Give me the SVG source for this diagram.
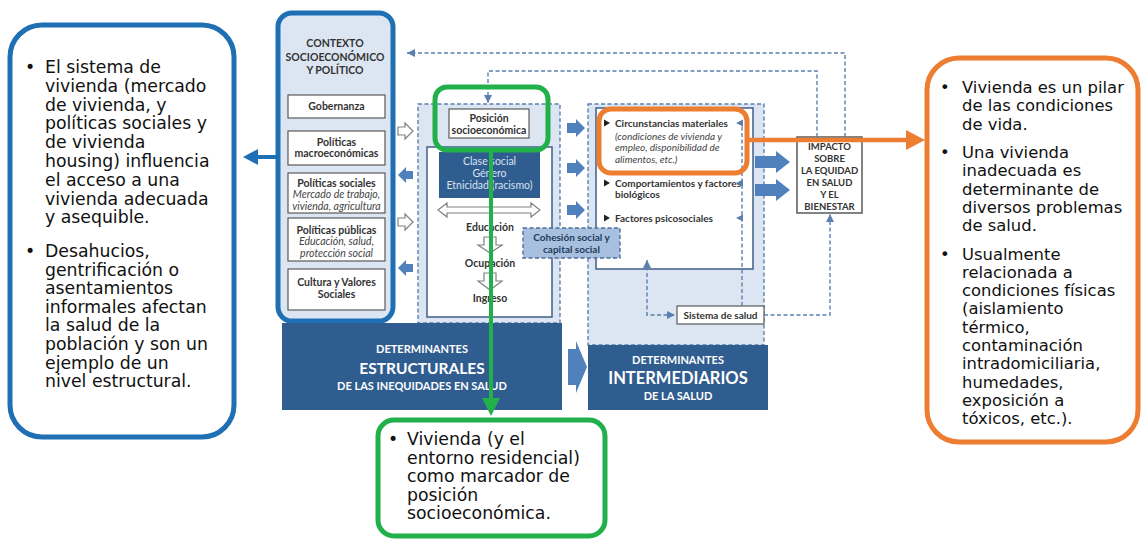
<svg xmlns="http://www.w3.org/2000/svg" width="1141" height="539" viewBox="0 0 1141 539">
<defs>
<style>
.v{font-family:"DejaVu Sans",Verdana,sans-serif;fill:#111}
.d{font-family:Lato,"Liberation Sans",sans-serif;fill:#333;text-anchor:middle;font-size:10.5px}
.b{font-weight:bold}
.i{font-style:italic;fill:#444}
.dash{fill:none;stroke:#5b80b0;stroke-width:1.4;stroke-dasharray:4 2.5}
.wbox{fill:#fff;stroke:#5a5a5a;stroke-width:1.2}
.col{fill:#dce6f2;stroke:#5b80b0;stroke-width:1.4;stroke-dasharray:4 2.5}
.bar{fill:#305d90}
.bt{font-family:Lato,"Liberation Sans",sans-serif;fill:#fff;text-anchor:middle;font-weight:bold}
.ba{fill:#4f81bd}
.wa{fill:#fff;stroke:#808080;stroke-width:1.2}
.sh{fill:#5b80b0}
</style>
<marker id="mh" viewBox="0 0 8 8" refX="8" refY="4" markerWidth="8" markerHeight="8" orient="auto-start-reverse" markerUnits="userSpaceOnUse"><path d="M0,0 L8,4 L0,8 Z" fill="#5b80b0"/></marker>
</defs>
<rect width="1141" height="539" fill="#fff"/>

<g id="left-note">
<rect x="10" y="25" width="224" height="412" rx="32" fill="#fff" stroke="#1f6fb4" stroke-width="5"/>
<g class="v" font-size="17.3">
<text x="25" y="73">•</text>
<text x="45" y="73">El sistema de</text>
<text x="45" y="91.8">vivienda (mercado</text>
<text x="45" y="110.6">de vivienda, y</text>
<text x="45" y="129.4">políticas sociales y</text>
<text x="45" y="148.2">de vivienda</text>
<text x="45" y="167">housing) influencia</text>
<text x="45" y="185.8">el acceso a una</text>
<text x="45" y="204.6">vivienda adecuada</text>
<text x="45" y="223.4">y asequible.</text>
<text x="25" y="257">•</text>
<text x="45" y="257">Desahucios,</text>
<text x="45" y="275.6">gentrificación o</text>
<text x="45" y="294.2">asentamientos</text>
<text x="45" y="312.8">informales afectan</text>
<text x="45" y="331.4">la salud de la</text>
<text x="45" y="350">población y son un</text>
<text x="45" y="368.6">ejemplo de un</text>
<text x="45" y="387.2">nivel estructural.</text>
</g>
</g>

<g id="right-note">
<rect x="927" y="58" width="211" height="384" rx="32" fill="#fff" stroke="#ed7d31" stroke-width="5"/>
<g class="v" font-size="16.4">
<text x="940" y="93">•</text>
<text x="962" y="93">Vivienda es un pilar</text>
<text x="962" y="111.3">de las condiciones</text>
<text x="962" y="129.6">de vida.</text>
<text x="940" y="158">•</text>
<text x="962" y="158">Una vivienda</text>
<text x="962" y="176.3">inadecuada es</text>
<text x="962" y="194.6">determinante de</text>
<text x="962" y="212.9">diversos problemas</text>
<text x="962" y="231.2">de salud.</text>
<text x="940" y="259.5">•</text>
<text x="962" y="259.5">Usualmente</text>
<text x="962" y="277.8">relacionada a</text>
<text x="962" y="296.1">condiciones físicas</text>
<text x="962" y="314.4">(aislamiento</text>
<text x="962" y="332.7">térmico,</text>
<text x="962" y="351">contaminación</text>
<text x="962" y="369.3">intradomiciliaria,</text>
<text x="962" y="387.6">humedades,</text>
<text x="962" y="405.9">exposición a</text>
<text x="962" y="424.2">tóxicos, etc.).</text>
</g>
</g>

<g id="bottom-note">
<rect x="378" y="420" width="227" height="116" rx="16" fill="#fff" stroke="#22b04b" stroke-width="5"/>
<g class="v" font-size="17.3">
<text x="388" y="445">•</text>
<text x="407" y="445">Vivienda (y el</text>
<text x="407" y="463.6">entorno residencial)</text>
<text x="407" y="482.2">como marcador de</text>
<text x="407" y="500.8">posición</text>
<text x="407" y="519.4">socioeconómica.</text>
</g>
</g>

<g id="contexto">
<rect x="278" y="13" width="115" height="308" rx="14" fill="#dce6f2" stroke="#1f6fb4" stroke-width="5"/>
<text class="d b" x="335" y="47">CONTEXTO</text>
<text class="d b" x="335" y="60.5">SOCIOECONÓMICO</text>
<text class="d b" x="335" y="74">Y POLÍTICO</text>
<rect class="wbox" x="288" y="95" width="97" height="23"/>
<text class="d b" x="336.5" y="110">Gobernanza</text>
<rect class="wbox" x="288" y="131" width="97" height="34"/>
<text class="d b" x="336.5" y="145.5">Políticas</text>
<text class="d b" x="336.5" y="157">macroeconómicas</text>
<rect class="wbox" x="288" y="173" width="97" height="40"/>
<text class="d b" x="336.5" y="186.5">Políticas sociales</text>
<text class="d i" x="336.5" y="198">Mercado de trabajo,</text>
<text class="d i" x="336.5" y="209.5">vivienda, agricultura</text>
<rect class="wbox" x="288" y="218" width="97" height="43"/>
<text class="d b" x="336.5" y="233.5">Políticas públicas</text>
<text class="d i" x="336.5" y="245">Educación, salud,</text>
<text class="d i" x="336.5" y="256.5">protección social</text>
<rect class="wbox" x="288" y="269" width="97" height="41"/>
<text class="d b" x="336.5" y="286">Cultura y Valores</text>
<text class="d b" x="336.5" y="298">Sociales</text>
</g>

<g id="estructurales">
<rect class="col" x="418" y="104" width="142" height="219"/>
<rect x="427" y="147" width="125" height="170" fill="#fff" stroke="#3e5f8a" stroke-width="1.5"/>
<rect x="439" y="152" width="101" height="46" fill="#305d90"/>
<text class="d" x="489.5" y="164.5" style="fill:#d6e2f2">Clase social</text>
<text class="d" x="489.5" y="176.5" style="fill:#d6e2f2">Género</text>
<text class="d" x="489.5" y="188.5" style="fill:#d6e2f2">Etnicidad (racismo)</text>
<polygon class="wa" points="438,210 447,203 447,207 531,207 531,203 540,210 531,217 531,213 447,213 447,217"/>
<text class="d b" x="490" y="231">Educación</text>
<polygon class="wa" points="484,237 496,237 496,245 502,245 490,253 478,245 484,245"/>
<text class="d b" x="490" y="267">Ocupación</text>
<polygon class="wa" points="484,273 496,273 496,281 502,281 490,290 478,281 484,281"/>
<text class="d b" x="490" y="302">Ingreso</text>
</g>

<g id="posicion">
<rect class="wbox" x="449" y="109" width="80" height="29"/>
<text class="d b" x="489" y="121.5">Posición</text>
<text class="d b" x="489" y="134">socioeconómica</text>
</g>

<g id="intermedios">
<rect class="col" x="588" y="104" width="176" height="241"/>
<rect x="596" y="108" width="157" height="161" fill="#fff" stroke="#3e5f8a" stroke-width="1.5"/>
<g fill="#222">
<polygon points="604,119.5 610,123 604,126.5"/>
<polygon points="604,179.5 610,183 604,186.5"/>
<polygon points="604,214.5 610,218 604,221.5"/>
</g>
<g class="d b" style="text-anchor:start;font-size:10px">
<text x="615" y="126.5">Circunstancias materiales</text>
<text x="615" y="186.5">Comportamientos y factores</text>
<text x="615" y="198">biológicos</text>
<text x="615" y="221.5">Factores psicosociales</text>
</g>
<g class="d i" style="text-anchor:start;font-size:10px">
<text x="615" y="139.5">(condiciones de vivienda y</text>
<text x="615" y="151">empleo, disponibilidad de</text>
<text x="615" y="162.5">alimentos, etc.)</text>
</g>
</g>

<g id="cohesion">
<rect x="523" y="228" width="97" height="30" fill="#a8c0df" stroke="#4d6e98" stroke-width="1.4" stroke-dasharray="4 2.5"/>
<text class="d b" x="571.5" y="241" style="font-size:10px;fill:#243b5a">Cohesión social y</text>
<text class="d b" x="571.5" y="253" style="font-size:10px;fill:#243b5a">capital social</text>
</g>

<g id="sistema-salud">
<rect class="wbox" x="677" y="306" width="87" height="18"/>
<text class="d b" x="720.5" y="318.5" style="font-size:10px">Sistema de salud</text>
</g>

<g id="impacto">
<rect x="797" y="137" width="65" height="76" fill="#fff" stroke="#5a5a5a" stroke-width="1.5"/>
<g class="d b" style="font-size:9.5px">
<text x="829.5" y="149.5">IMPACTO</text>
<text x="829.5" y="161.5">SOBRE</text>
<text x="829.5" y="173.5">LA EQUIDAD</text>
<text x="829.5" y="185.5">EN SALUD</text>
<text x="829.5" y="197.5">Y EL</text>
<text x="829.5" y="209.5">BIENESTAR</text>
</g>
</g>

<g id="bar-estructurales">
<rect class="bar" x="282" y="323" width="280" height="87"/>
<text class="bt" x="422" y="353" font-size="11">DETERMINANTES</text>
<text class="bt" x="422" y="374" font-size="15.5">ESTRUCTURALES</text>
<text class="bt" x="422" y="389.5" font-size="11">DE LAS INEQUIDADES EN SALUD</text>
</g>

<g id="bar-intermedios">
<rect class="bar" x="588" y="345" width="180" height="65"/>
<text class="bt" x="678" y="364" font-size="11">DETERMINANTES</text>
<text class="bt" x="678" y="384" font-size="16.5">INTERMEDIARIOS</text>
<text class="bt" x="678" y="400" font-size="11">DE LA SALUD</text>
</g>

<g id="connectors">
<polygon class="wa" points="398,127 405,127 405,123 413,131 405,139 405,135 398,135"/>
<polygon class="ba" points="413,171 406,171 406,167 398,175 406,183 406,179 413,179"/>
<polygon class="wa" points="398,218 405,218 405,214 413,222 405,230 405,226 398,226"/>
<polygon class="ba" points="413,264 406,264 406,260 398,268 406,276 406,272 413,272"/>
<polygon class="ba" points="567,123 576,123 576,119 585,128 576,137 576,133 567,133"/>
<polygon class="ba" points="567,163 576,163 576,159 585,168 576,177 576,173 567,173"/>
<polygon class="ba" points="567,205 576,205 576,201 585,210 576,219 576,215 567,215"/>
<polygon class="ba" points="755,156 776,156 776,151 790,162 776,173 776,168 755,168"/>
<polygon class="ba" points="755,184 776,184 776,179 790,190 776,201 776,196 755,196"/>
<polygon class="ba" points="568,349 576,349 576,341 587,367 576,393 576,385 568,385"/>
<path class="dash" d="M845,137 V53 H407" marker-end="url(#mh)"/>
<path class="dash" d="M817,137 V71 H488 V103" marker-end="url(#mh)"/>
<path class="dash" d="M742,306 V121"/>
<polygon class="sh" points="736,123 743,119.5 743,126.5"/>
<polygon class="sh" points="736,183 743,179.5 743,186.5"/>
<polygon class="sh" points="736,218 743,214.5 743,221.5"/>
<path class="dash" d="M647,260 V315 H675" marker-start="url(#mh)" marker-end="url(#mh)"/>
<path class="dash" d="M764,315 H830 V214" marker-end="url(#mh)"/>
<rect x="599" y="109" width="148" height="64" rx="12" fill="none" stroke="#ed7d31" stroke-width="5"/>
<rect x="435" y="87" width="113" height="63" rx="12" fill="none" stroke="#22b04b" stroke-width="5"/>
<path d="M280,157 H256" stroke="#1f6fb4" stroke-width="4" fill="none"/>
<polygon points="243,157 258,149 258,165" fill="#1f6fb4"/>
<path d="M748,140 H908" stroke="#ed7d31" stroke-width="4.5" fill="none"/>
<polygon points="925,140 906,130 906,150" fill="#ed7d31"/>
<path d="M491,150 V400" stroke="#22b04b" stroke-width="4" fill="none"/>
<polygon points="491,416 482,398 500,398" fill="#22b04b"/>
</g>
</svg>
